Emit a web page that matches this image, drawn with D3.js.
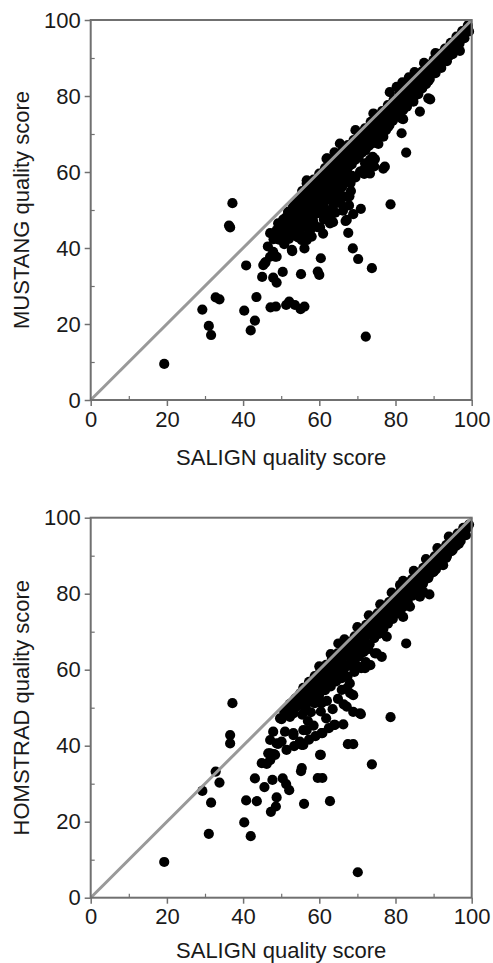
<!DOCTYPE html>
<html>
<head>
<meta charset="utf-8">
<script src="https://cdn.jsdelivr.net/npm/d3@7"></script>
<style>
  html, body { margin: 0; padding: 0; background: #fff; }
  svg { display: block; }
  text { font-family: "Liberation Sans", Arial, Helvetica, sans-serif; }
</style>
</head>
<body>
<div id="chart"></div>
<script>
// ---------- DATA ----------
const majorTicks = [0, 20, 40, 60, 80, 100];
const minorTicks = [10, 30, 50, 70, 90];
const xTitle = "SALIGN quality score";
const yTitleTop = "MUSTANG quality score";
const yTitleBottom = "HOMSTRAD quality score";

// [SALIGN score, MUSTANG score]
const mustangOutliers = [
  [19.3,9.5],[37.2,51.8],[36.6,45.4],[36.3,45.9],[29.3,23.8],[31.0,19.5],[31.6,17.1],[32.8,27.0],[33.8,26.5],
  [40.8,35.4],[40.3,23.5],[43.1,20.9],[42.0,18.3],[43.5,27.1],[45.0,32.4],[47.9,32.2],[48.8,30.9],[50.4,33.7],
  [52.9,39.2],[45.9,36.3],[47.2,24.4],[48.6,24.6],[51.3,25.0],[52.1,25.9],[53.6,25.0],[55.1,23.9],[56.1,24.6],
  [55.2,33.1],[56.1,39.9],[59.6,33.8],[60.0,32.9],[60.4,37.3],[60.2,45.4],[62.8,46.5],[66.9,47.1],[67.6,44.0],
  [68.9,48.9],[70.9,50.3],[68.8,39.9],[70.2,37.1],[73.8,34.7],[72.2,16.7],[78.7,51.5],
  [47.1,37.7],[48.4,37.7],[45.7,36.0],[47.1,43.9],[48.8,44.7],[50.1,43.4],[51.3,42.5],[49.2,46.5],[46.5,40.4],
  [47.9,39.0],[48.8,37.7],[45.3,35.5],[52.8,47.4],[55.4,43.0],[56.2,45.6],[56.7,42.1]
];
const mustangCluster = [
  [52.3,47.4],[53.5,48.8],[54.5,50.4],[55.4,47.4],[56.7,50.0],[57.6,44.7],[58.4,47.0],[59.3,51.8],[60.6,49.1],
  [61.9,52.6],[62.8,50.0],[64.6,57.9],[65.4,54.4],[67.2,60.5],[70.7,60.1],[72.0,62.3],[67.2,47.4],[52.8,39.5],
  [50.6,43.0],[55.4,42.1],[56.7,57.0],[59.3,57.0],[62.1,63.6],[53.0,45.2],[54.0,46.1],[55.0,45.0],[56.0,48.5],
  [57.0,46.8],[57.8,49.6],[58.5,52.9],[59.0,48.9],[59.8,54.0],[60.5,51.5],[61.2,47.5],[61.5,55.3],[62.2,53.8],
  [63.0,48.6],[63.4,55.9],[63.8,51.4],[64.2,49.3],[64.5,53.2],[65.0,58.6],[65.5,51.8],[66.0,56.1],[66.2,49.8],
  [66.8,53.5],[67.2,57.4],[67.8,51.2],[68.3,55.0],[68.6,59.0],[67.9,53.6],[68.2,57.1],[69.5,58.6],[71.8,59.5],
  [72.8,60.4],[73.2,62.5],[74.0,64.0],[74.4,61.5],[53.8,43.2],[51.4,45.8],[50.2,46.3],[49.4,42.2],[50.8,41.0],
  [52.0,42.4],[54.6,44.0],[58.0,43.0],[59.5,45.5],[61.0,43.8],[57.2,53.8],[58.2,55.5],[56.5,52.6],[55.6,51.5],
  [63.6,46.8],[73.3,59.6],[74.6,63.4],[77.2,61.4],[75.5,67.4],[76.8,70.6],[77.7,72.8],[81.6,70.2],[82.8,65.1],
  [82.0,73.9],[86.4,75.9],[89.1,79.1],[96.9,91.9],[88.6,83.9],[81.6,74.1],[76.8,69.3],[78.1,71.9],[84.7,78.5],
  [85.6,81.6],[88.6,79.4],[76.8,60.9],[71.6,60.5],[73.3,63.2],[65.4,67.5],[61.9,63.5],[74.2,75.4],[80.3,82.4],
  [49.0,44.0],[50.0,44.8],[51.0,46.8],[51.8,44.2],[52.6,45.6],[53.4,46.9],[54.2,47.8],[54.8,49.0],[55.8,46.2],
  [56.4,47.5],[57.4,48.3],[58.2,50.6],[58.9,50.0],[59.7,50.8],[60.1,53.0],[61.1,51.0],[62.0,49.5],[62.6,55.0],
  [63.2,53.5],[64.0,54.5],[65.0,55.8],[66.0,58.0],[67.0,59.0],[48.0,42.3],[49.8,45.5],[53.2,44.0],[54.4,42.8],
  [57.0,43.5]
];
const mustangBand = [
  [50.5,47.5],[51.2,48.0],[51.8,49.5],[52.4,48.2],[53.0,50.6],[53.5,51.8],[54.1,50.2],[54.6,52.9],[55.2,53.5],
  [55.6,51.5],[56.3,54.8],[56.8,53.1],[57.4,55.9],[57.9,56.4],[58.3,54.2],[58.8,57.3],[59.4,56.0],[59.9,58.4],
  [60.3,57.1],[60.8,59.2],[61.2,55.6],[61.7,59.9],[62.1,58.0],[62.6,60.7],[63.0,61.4],[63.5,59.1],[63.9,62.0],
  [64.4,60.5],[64.8,62.8],[65.3,61.2],[65.7,63.5],[66.2,64.1],[66.6,62.3],[67.1,64.9],[67.5,63.0],[68.0,65.8],
  [68.4,66.2],[68.9,64.4],[69.3,67.1],[69.8,65.6],[70.2,68.0],[70.7,66.3],[71.1,68.7],[71.6,69.5],[72.0,67.4],
  [72.5,70.2],[72.9,68.8],[73.4,71.0],[73.8,71.6],[74.3,69.9],[74.7,72.3],[75.2,73.1],[75.6,71.2],[76.1,74.0],
  [76.5,72.6],[77.0,74.8],[77.4,75.5],[77.9,73.7],[78.3,76.2],[78.8,77.0],[79.2,75.1],[79.7,77.8],[80.1,78.4],
  [80.6,76.6],[81.0,79.2],[81.5,80.0],[81.9,77.9],[82.4,80.7],[82.8,81.3],[83.3,79.5],[83.7,82.0],[84.2,82.6],
  [84.6,80.8],[85.1,83.4],[85.5,84.1],[86.0,82.3],[86.4,84.9],[86.9,85.5],[87.3,83.8],[87.8,86.2],[88.2,86.9],
  [88.7,85.0],[89.1,87.6],[89.6,88.2],[90.0,86.5],[90.5,89.0],[90.9,89.4],[91.4,88.0],[91.8,90.2],[92.3,90.9],
  [92.7,89.3],[93.2,91.5],[93.6,92.2],[94.1,90.6],[94.5,92.9],[95.0,93.6],[95.4,92.0],[95.9,94.3],[96.3,95.0],
  [96.8,93.8],[97.2,95.8],[97.7,96.5],[98.1,95.2],[98.6,97.3],[99.0,98.0],[99.3,97.0],
  [55.0,48.5],[56.0,49.8],[57.0,51.2],[57.8,49.0],[58.6,52.5],[59.5,53.4],[60.5,54.0],[61.4,53.0],[62.3,56.1],
  [63.2,56.8],[64.0,57.5],[64.9,58.3],[65.8,59.4],[66.7,60.0],[67.6,61.3],[68.5,62.0],[69.4,63.2],[70.3,63.8],
  [71.2,65.1],[72.1,65.7],[73.0,66.9],[73.9,67.5],[74.8,68.6],[75.7,69.3],[76.6,70.4],[77.5,71.0],[78.4,72.3],
  [79.3,73.5],[80.2,74.6],[81.1,75.2],[82.0,76.3],[83.0,77.2],[84.0,78.6],[85.0,80.0],[86.0,80.5],[87.0,82.0],
  [88.0,83.1],[89.0,84.5],[90.5,86.0],[92.0,87.4],[93.5,89.2],[95.0,91.0],
  [55.5,55.0],[57.0,56.5],[58.5,58.0],[60.0,59.6],[61.5,61.0],[63.0,62.6],[64.5,64.0],[66.0,65.5],[67.5,67.1],
  [69.0,68.4],[70.5,70.0],[72.0,71.5],[73.5,73.2],[75.0,74.4],[76.5,76.0],[78.0,77.6],[79.5,79.0],[81.0,80.6],
  [82.5,82.0],[84.0,83.6],[85.5,85.0],[87.0,86.5],[88.5,88.1],[90.0,89.5],[91.5,91.1],[93.0,92.5],[94.5,94.0],
  [96.0,95.6],[97.5,97.1],[99.0,98.6],
  [78.5,81.0],[81.8,83.6],[83.5,84.9],[85.0,86.3],[69.5,71.0],[87.5,88.7],[90.5,91.3],[56.7,57.8],[64.0,65.2]
];

// [SALIGN score, HOMSTRAD score]
const homstradOutliers = [
  [19.3,9.4],[37.2,51.2],[36.6,42.8],[36.6,40.6],[32.8,33.2],[33.8,30.3],[29.3,28.1],[31.6,25.0],[31.0,16.8],
  [40.3,19.8],[42.0,16.2],[40.8,25.6],[43.6,25.4],[43.1,31.4],[45.6,29.1],[47.7,31.0],[47.3,22.6],[48.6,24.0],
  [48.8,26.4],[50.4,31.4],[51.3,29.9],[52.1,28.3],[55.2,33.3],[56.0,24.7],[59.6,31.5],[60.8,31.5],[62.8,25.4],
  [60.4,37.6],[60.8,43.3],[63.9,45.5],[66.3,45.6],[67.5,40.4],[68.9,40.4],[73.8,35.1],[70.1,6.7],[78.7,47.5],
  [70.9,48.3],[68.9,48.9],[67.2,50.3],[68.9,53.3],[67.2,55.1],
  [44.9,35.4],[46.2,35.2],[47.1,36.2],[46.6,38.0],[48.1,37.8],[49.2,40.5],[51.4,38.9],[53.4,39.9],[55.4,40.2],
  [54.9,41.1],[55.8,40.2],[56.7,44.1],[53.2,42.8],[50.1,41.1],[47.9,43.7],[49.7,47.2],[47.1,38.0],[48.4,37.6],
  [52.3,47.6],[54.1,50.3],[55.8,53.8],[60.6,51.2],[47.1,41.5],[48.8,40.6],[51.0,43.7],[55.4,34.1],[60.2,37.6]
];
const homstradCluster = [
  [50.1,47.0],[53.2,43.3],[55.8,44.1],[60.6,43.3],[64.1,45.5],[68.1,53.8],[65.9,54.7],[56.7,53.8],[56.2,55.1],
  [54.5,50.7],[53.2,48.5],[70.7,48.5],[52.8,49.8],[53.8,51.6],[55.0,52.4],[55.5,48.2],[56.4,50.0],[57.2,52.0],
  [57.8,48.8],[58.3,54.6],[58.8,51.2],[59.4,56.0],[59.9,53.1],[60.4,49.0],[61.0,57.2],[61.5,54.6],[62.0,51.8],
  [62.5,58.5],[63.0,55.6],[63.5,49.6],[64.0,59.3],[64.4,56.9],[64.9,52.3],[65.4,60.4],[65.9,57.8],[66.4,50.9],
  [66.9,61.2],[67.4,58.2],[68.0,56.4],[68.6,62.3],[69.2,59.4],[69.8,61.1],[70.4,63.5],[71.0,60.4],[71.6,64.6],
  [72.2,62.0],[72.8,65.4],[73.4,61.2],[57.0,46.5],[58.5,45.3],[61.8,47.2],[62.5,44.6],[59.0,42.5],[57.3,41.6],
  [72.0,60.4],[70.2,60.8],[75.1,64.3],[76.4,63.4],[74.6,64.3],[77.7,68.7],[82.0,73.9],[83.8,76.6],[82.8,66.9],
  [86.4,79.2],[88.9,79.8],[87.3,80.5],[92.5,87.5],[98.5,95.4],[81.2,82.3],[86.4,79.7],[65.0,66.9],[78.6,74.0],
  [80.4,75.6],[84.9,80.9],[90.6,86.4]
];
const homstradBand = [
  [50.8,48.9],[51.6,49.6],[52.3,51.0],[53.0,50.2],[53.7,52.4],[54.3,51.6],[55.0,53.8],[55.6,52.6],[56.3,54.9],
  [56.9,55.6],[57.5,54.3],[58.1,56.8],[58.7,55.2],[59.3,58.0],[59.9,56.9],[60.5,59.1],[61.1,58.2],[61.7,60.4],
  [62.3,59.5],[62.9,61.6],[63.5,60.2],[64.1,62.7],[64.7,61.5],[65.3,63.9],[65.9,62.6],[66.5,65.0],[67.1,63.7],
  [67.7,66.1],[68.3,64.9],[68.9,67.3],[69.5,65.8],[70.1,68.4],[70.7,67.2],[71.3,69.6],[71.9,68.1],[72.5,70.8],
  [73.1,69.5],[73.7,71.9],[74.3,70.4],[74.9,73.1],[75.5,71.6],[76.1,74.2],[76.7,72.9],[77.3,75.4],[77.9,73.8],
  [78.5,76.6],[79.1,75.2],[79.7,77.8],[80.3,76.5],[80.9,79.0],[81.5,77.6],[82.1,80.1],[82.7,78.9],[83.3,81.3],
  [83.9,79.8],[84.5,82.4],[85.1,81.2],[85.7,83.6],[86.3,82.1],[86.9,84.8],[87.5,83.5],[88.1,86.0],[88.7,84.6],
  [89.3,87.2],[89.9,85.7],[90.5,88.4],[91.1,87.3],[91.7,89.6],[92.3,88.5],[92.9,90.8],[93.5,89.9],[94.1,92.0],
  [94.7,91.2],[95.3,93.2],[95.9,92.6],[96.5,94.5],[97.1,93.9],[97.7,95.7],[98.3,96.6],[98.9,97.4],[99.3,98.2],
  [56.0,50.5],[57.6,51.6],[59.0,52.7],[60.3,54.2],[61.6,55.8],[62.8,56.6],[64.0,57.9],[65.2,59.0],[66.3,59.8],
  [67.5,61.0],[68.6,61.9],[69.8,63.6],[70.9,64.5],[72.0,65.9],[73.2,66.7],[74.4,68.3],[75.6,69.4],[76.8,70.7],
  [78.0,72.1],[79.3,73.4],[80.6,74.9],[81.9,76.4],[83.2,77.9],[84.5,79.5],[85.8,81.0],[87.2,82.6],[88.6,84.1],
  [90.1,85.9],[91.7,87.8],[93.3,89.4],[95.0,91.5],[96.6,93.1],
  [55.8,55.2],[57.3,56.8],[58.8,58.3],[60.3,59.8],[61.8,61.3],[63.3,62.8],[64.8,64.3],[66.3,65.8],[67.8,67.3],
  [69.3,68.8],[70.8,70.3],[72.3,71.8],[73.8,73.3],[75.3,74.8],[76.8,76.3],[78.3,77.8],[79.8,79.3],[81.3,80.8],
  [82.8,82.3],[84.3,83.8],[85.8,85.3],[87.3,86.8],[88.8,88.3],[90.3,89.8],[91.8,91.3],[93.3,92.8],[94.8,94.3],
  [96.3,95.8],[97.8,97.3],
  [66.6,68.0],[70.0,71.2],[73.0,74.3],[76.0,77.2],[79.0,80.3],[82.0,83.4],[84.8,86.0],[88.0,89.1],[91.0,92.0],
  [94.0,95.0],[63.0,64.1],[60.0,60.9]
];

// ---------- LAYOUT ----------
const W = 493, H = 963;
const panels = [
  { top: 20, titleOffset: 65, yTitle: yTitleTop, pts: [].concat(mustangOutliers, mustangCluster, mustangBand) },
  { top: 517.7, titleOffset: 60.6, yTitle: yTitleBottom, pts: [].concat(homstradOutliers, homstradCluster, homstradBand) }
];
const left = 90.7, plotW = 381, plotH = 380;

const svg = d3.select("#chart").append("svg").attr("width", W).attr("height", H);

const x = d3.scaleLinear().domain([0, 100]).range([left, left + plotW]);

panels.forEach(p => {
  const y = d3.scaleLinear().domain([0, 100]).range([p.top + plotH, p.top]);
  const g = svg.append("g");

  // points
  g.append("g").selectAll("circle").data(p.pts).join("circle")
    .attr("cx", d => x(d[0])).attr("cy", d => y(d[1])).attr("r", 5.1)
    .attr("fill", "#000");

  // diagonal
  g.append("line")
    .attr("x1", x(0)).attr("y1", y(0)).attr("x2", x(100)).attr("y2", y(100))
    .attr("stroke", "#999").attr("stroke-width", 3);

  // frame
  g.append("rect")
    .attr("x", x(0)).attr("y", y(100)).attr("width", x(100) - x(0)).attr("height", y(0) - y(100))
    .attr("fill", "none").attr("stroke", "#707070").attr("stroke-width", 2);

  // x axis major
  const xAxis = d3.axisBottom(x).tickValues(majorTicks).tickSize(6).tickPadding(5);
  const gx = g.append("g").attr("transform", `translate(0,${y(0)})`).call(xAxis);
  gx.select(".domain").remove();
  gx.selectAll(".tick line").attr("stroke", "#707070").attr("stroke-width", 1.5);
  gx.selectAll(".tick text").attr("font-size", 22).attr("fill", "#1a1a1a")
    .attr("font-family", "'Liberation Sans', Arial, sans-serif");
  // x minor (inside)
  const xMinor = d3.axisTop(x).tickValues(minorTicks).tickSize(4).tickFormat("");
  const gxm = g.append("g").attr("transform", `translate(0,${y(0)})`).call(xMinor);
  gxm.select(".domain").remove();
  gxm.selectAll(".tick line").attr("stroke", "#707070").attr("stroke-width", 1.2);

  // y axis major
  const yAxis = d3.axisLeft(y).tickValues(majorTicks).tickSize(6).tickPadding(4);
  const gy = g.append("g").attr("transform", `translate(${x(0)},0)`).call(yAxis);
  gy.select(".domain").remove();
  gy.selectAll(".tick line").attr("stroke", "#707070").attr("stroke-width", 1.5);
  gy.selectAll(".tick text").attr("font-size", 22).attr("fill", "#1a1a1a")
    .attr("font-family", "'Liberation Sans', Arial, sans-serif");
  const yMinor = d3.axisRight(y).tickValues(minorTicks).tickSize(4).tickFormat("");
  const gym = g.append("g").attr("transform", `translate(${x(0)},0)`).call(yMinor);
  gym.select(".domain").remove();
  gym.selectAll(".tick line").attr("stroke", "#707070").attr("stroke-width", 1.2);

  // titles
  g.append("text").attr("x", (x(0) + x(100)) / 2).attr("y", y(0) + p.titleOffset)
    .attr("text-anchor", "middle").attr("font-size", 22).attr("fill", "#1a1a1a").text(xTitle);
  g.append("text")
    .attr("transform", `translate(29,${(y(0) + y(100)) / 2}) rotate(-90)`)
    .attr("text-anchor", "middle").attr("font-size", 22).attr("fill", "#1a1a1a").text(p.yTitle);
});
</script>
</body>
</html>
